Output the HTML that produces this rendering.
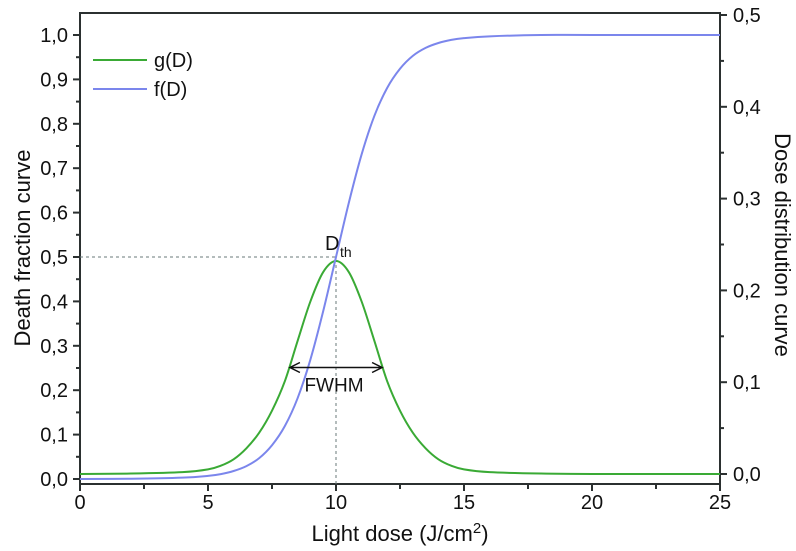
<!DOCTYPE html>
<html><head><meta charset="utf-8"><style>
body{margin:0;background:#fff}
svg{display:block;font-family:"Liberation Sans",Arial,sans-serif}
</style></head><body>
<svg id="chart" width="796" height="551" viewBox="0 0 796 551">
<g id="plot"></g>
</svg>
<script>
const doses=[0,2,4,5,5.5,6,6.5,7,7.5,8,8.5,9,9.5,10,10.5,11,11.5,12,12.5,13,13.5,14,14.5,15,16,18,20,25];
const fValues=[0,0.0005,0.003,0.007,0.011,0.018,0.029,0.047,0.076,0.119,0.182,0.269,0.378,0.5,0.622,0.731,0.818,0.881,0.924,0.953,0.971,0.982,0.989,0.993,0.997,1,1,1];
const gValues=[0,0.0005,0.002,0.005,0.009,0.016,0.028,0.045,0.069,0.101,0.145,0.188,0.220,0.232,0.220,0.188,0.145,0.101,0.069,0.045,0.028,0.016,0.009,0.005,0.002,0.0005,0,0];
const xTicks=[0,5,10,15,20,25];
const leftTicks=["0,0","0,1","0,2","0,3","0,4","0,5","0,6","0,7","0,8","0,9","1,0"];
const rightTicks=["0,0","0,1","0,2","0,3","0,4","0,5"];
const dth=10, dthLevel=0.5, fwhmLo=8.2, fwhmHi=11.8, fwhmLevel=0.116;

const X0=80,X1=720,Y0=484,Y1=13;
const xs=d=>X0+(d/25)*(X1-X0);
const yl=v=>479-v*444;
const yr=v=>474-v*918;
const NS="http://www.w3.org/2000/svg";
const g=document.getElementById('plot');
function mk(t,a,txt){const e=document.createElementNS(NS,t);for(const k in a)e.setAttribute(k,a[k]);if(txt!==undefined)e.textContent=txt;g.appendChild(e);return e;}
function smooth(pts){let d="M"+pts[0][0]+","+pts[0][1];for(let i=0;i<pts.length-1;i++){const p0=pts[i-1]||pts[i],p1=pts[i],p2=pts[i+1],p3=pts[i+2]||p2;
const c1x=p1[0]+(p2[0]-p0[0])/6,c1y=p1[1]+(p2[1]-p0[1])/6,c2x=p2[0]-(p3[0]-p1[0])/6,c2y=p2[1]-(p3[1]-p1[1])/6;
d+=` C${c1x},${c1y} ${c2x},${c2y} ${p2[0]},${p2[1]}`;}return d;}

let e=mk('rect',{x:X0,y:Y1,width:X1-X0,height:Y0-Y1,fill:'none',stroke:'#2b3030','stroke-width':2});


xTicks.forEach((t,i)=>{
 e=mk('line',{x1:xs(t),x2:xs(t),y1:Y0,y2:Y0+7,stroke:'#2b3030','stroke-width':2});
 
 
 if(i<xTicks.length-1){e=mk('line',{x1:xs(t+2.5),x2:xs(t+2.5),y1:Y0,y2:Y0+5,stroke:'#2b3030','stroke-width':2});
 
 }
 e=mk('text',{x:xs(t),y:509,'font-size':20,'text-anchor':'middle',fill:'#111'},t);
 
 
});
leftTicks.forEach((t,i)=>{const v=i/10;
 e=mk('line',{x1:X0-7,x2:X0,y1:yl(v),y2:yl(v),stroke:'#2b3030','stroke-width':2});
 
 
 if(i<leftTicks.length-1){e=mk('line',{x1:X0-4,x2:X0,y1:yl(v+0.05),y2:yl(v+0.05),stroke:'#2b3030','stroke-width':2});
 
 }
 e=mk('text',{x:68,y:yl(v)+7,'font-size':20,'text-anchor':'end',fill:'#111'},t);
 
 
});
rightTicks.forEach((t,i)=>{const v=i/10;
 e=mk('line',{x1:X1,x2:X1+7,y1:yr(v),y2:yr(v),stroke:'#2b3030','stroke-width':2});
 
 
 if(i<rightTicks.length-1){e=mk('line',{x1:X1,x2:X1+4,y1:yr(v+0.05),y2:yr(v+0.05),stroke:'#2b3030','stroke-width':2});
 
 }
 e=mk('text',{x:733,y:yr(v)+7,'font-size':20,fill:'#111'},t);
 
 
});
e=mk('path',{d:`M${X0},${yl(dthLevel)} H${xs(dth)} V${Y0}`,fill:'none',stroke:'#6a7a7a','stroke-width':1,'stroke-dasharray':'3,3'});


e=mk('path',{d:smooth(doses.map((d,i)=>[xs(d),yr(gValues[i])])),fill:'none',stroke:'#3aaa35','stroke-width':2});


e=mk('path',{d:smooth(doses.map((d,i)=>[xs(d),yl(fValues[i])])),fill:'none',stroke:'#7b86ec','stroke-width':2});


const ay=yr(fwhmLevel);
e=mk('path',{d:`M${xs(fwhmLo)},${ay} H${xs(fwhmHi)} M${xs(fwhmLo)+10},${ay-5} L${xs(fwhmLo)},${ay} L${xs(fwhmLo)+10},${ay+5} M${xs(fwhmHi)-10},${ay-5} L${xs(fwhmHi)},${ay} L${xs(fwhmHi)-10},${ay+5}`,fill:'none',stroke:'#111','stroke-width':1.5});


e=mk('text',{x:xs(10)-2,y:ay+24,'font-size':19,'text-anchor':'middle',fill:'#111'},'FWHM');


e=mk('text',{x:325,y:250,'font-size':20,fill:'#111'},'D');


e=mk('text',{x:340,y:257,'font-size':14,fill:'#111'},'th');


e=mk('line',{x1:93,x2:147,y1:60,y2:60,stroke:'#3aaa35','stroke-width':2});


e=mk('text',{x:154,y:67,'font-size':20,fill:'#111'},'g(D)');


e=mk('line',{x1:93,x2:147,y1:89,y2:89,stroke:'#7b86ec','stroke-width':2});


e=mk('text',{x:154,y:96,'font-size':20,fill:'#111'},'f(D)');


e=mk('text',{x:0,y:0,'font-size':22,'text-anchor':'middle',fill:'#111',transform:'translate(30,248) rotate(-90)'},'Death fraction curve');


e=mk('text',{x:0,y:0,'font-size':22,'text-anchor':'middle',fill:'#111',transform:'translate(775,245) rotate(90)'},'Dose distribution curve');


e=mk('text',{x:400,y:541,'font-size':22,'text-anchor':'middle',fill:'#111'});


e.innerHTML='Light dose (J/cm<tspan dy="-8" font-size="15">2</tspan><tspan dy="8">)</tspan>';
</script>
</body></html>
